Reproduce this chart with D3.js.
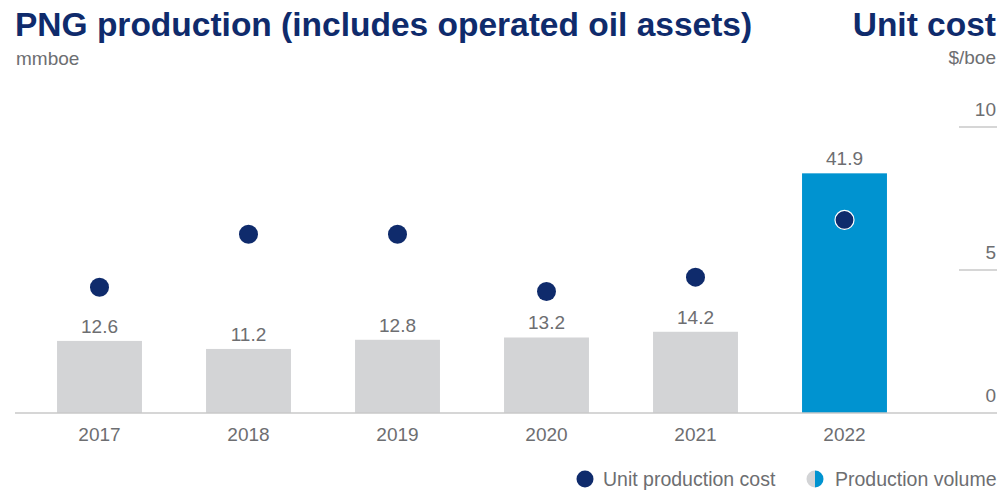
<!DOCTYPE html>
<html>
<head>
<meta charset="utf-8">
<script src="https://cdn.jsdelivr.net/npm/d3@7"></script>
<style>
  body { margin: 0; background: #fff; }
  svg { font-family: "Liberation Sans", Arial, sans-serif; }
</style>
</head>
<body>
<svg id="chart" width="1005" height="490"></svg>
<script>
// data
const years = ['2017', '2018', '2019', '2020', '2021', '2022'];
const production = [12.6, 11.2, 12.8, 13.2, 14.2, 41.9];   // mmboe
const unitCost = [4.4, 6.25, 6.25, 4.25, 4.75, 6.75];      // $/boe
const costTicks = [0, 5, 10];

const navy = '#0f2b6c',
    blue = '#0093d0',
    grey = '#d3d4d6',
    textGrey = '#6d6e71';

const svg = d3.select('#chart');

const x = d3.scaleBand()
    .domain(years)
    .range([25, 919])
    .paddingInner(0.43)
    .paddingOuter(0.215);

const yVol = d3.scaleLinear().domain([0, 50]).range([413, 127]);
const yCost = d3.scaleLinear().domain([0, 10]).range([413, 127]);

// titles
svg.append('text')
    .attr('x', 15).attr('y', 36)
    .attr('font-size', 33.5).attr('font-weight', 'bold')
    .attr('fill', navy)
    .text('PNG production (includes operated oil assets)');

svg.append('text')
    .attr('x', 16).attr('y', 65)
    .attr('font-size', 19).attr('fill', textGrey)
    .text('mmboe');

svg.append('text')
    .attr('x', 996).attr('y', 36)
    .attr('text-anchor', 'end')
    .attr('font-size', 33.5).attr('font-weight', 'bold')
    .attr('fill', navy)
    .text('Unit cost');

svg.append('text')
    .attr('x', 996).attr('y', 64)
    .attr('text-anchor', 'end')
    .attr('font-size', 19).attr('fill', textGrey)
    .text('$/boe');

// right axis ticks
const ticks = svg.append('g').selectAll('g')
    .data(costTicks)
    .enter().append('g');

ticks.append('line')
    .attr('x1', 959).attr('x2', 997)
    .attr('y1', d => yCost(d)).attr('y2', d => yCost(d))
    .attr('stroke', '#c8c8c8').attr('stroke-width', 1.5);

ticks.append('text')
    .attr('x', 996).attr('y', d => yCost(d) - 11)
    .attr('text-anchor', 'end')
    .attr('font-size', 19).attr('fill', textGrey)
    .text(d => d);

// bars
svg.append('g').selectAll('rect')
    .data(production)
    .enter().append('rect')
    .attr('x', (d, i) => x(years[i]))
    .attr('width', x.bandwidth())
    .attr('y', d => yVol(d))
    .attr('height', d => yVol(0) - yVol(d))
    .attr('fill', (d, i) => i === years.length - 1 ? blue : grey);

// baseline
svg.append('line')
    .attr('x1', 15).attr('x2', 959)
    .attr('y1', yVol(0)).attr('y2', yVol(0))
    .attr('stroke', '#c8c8c8').attr('stroke-width', 1.5);

// value labels
svg.append('g').selectAll('text')
    .data(production)
    .enter().append('text')
    .attr('x', (d, i) => x(years[i]) + x.bandwidth() / 2)
    .attr('y', d => yVol(d) - 8)
    .attr('text-anchor', 'middle')
    .attr('font-size', 19).attr('fill', textGrey)
    .text(d => d.toFixed(1));

// year labels
svg.append('g').selectAll('text')
    .data(years)
    .enter().append('text')
    .attr('x', d => x(d) + x.bandwidth() / 2)
    .attr('y', 441)
    .attr('text-anchor', 'middle')
    .attr('font-size', 19).attr('fill', textGrey)
    .text(d => d);

// cost dots
svg.append('g').selectAll('circle')
    .data(unitCost)
    .enter().append('circle')
    .attr('cx', (d, i) => x(years[i]) + x.bandwidth() / 2)
    .attr('cy', d => yCost(d))
    .attr('r', 9.5)
    .attr('fill', navy)
    .attr('stroke', (d, i) => i === years.length - 1 ? '#fff' : 'none')
    .attr('stroke-width', 1.2);

// legend
const legend = svg.append('g');
legend.append('circle')
    .attr('cx', 585).attr('cy', 479).attr('r', 8.5)
    .attr('fill', navy);
legend.append('text')
    .attr('x', 603).attr('y', 486)
    .attr('font-size', 19.5).attr('fill', textGrey)
    .text('Unit production cost');

const arc = d3.arc().innerRadius(0).outerRadius(8.5);
legend.append('path')
    .attr('transform', 'translate(815,479)')
    .attr('d', arc({startAngle: Math.PI, endAngle: 2 * Math.PI}))
    .attr('fill', grey);
legend.append('path')
    .attr('transform', 'translate(815,479)')
    .attr('d', arc({startAngle: 0, endAngle: Math.PI}))
    .attr('fill', blue);
legend.append('text')
    .attr('x', 835).attr('y', 486)
    .attr('font-size', 19.5).attr('fill', textGrey)
    .text('Production volume');
</script>
</body>
</html>
